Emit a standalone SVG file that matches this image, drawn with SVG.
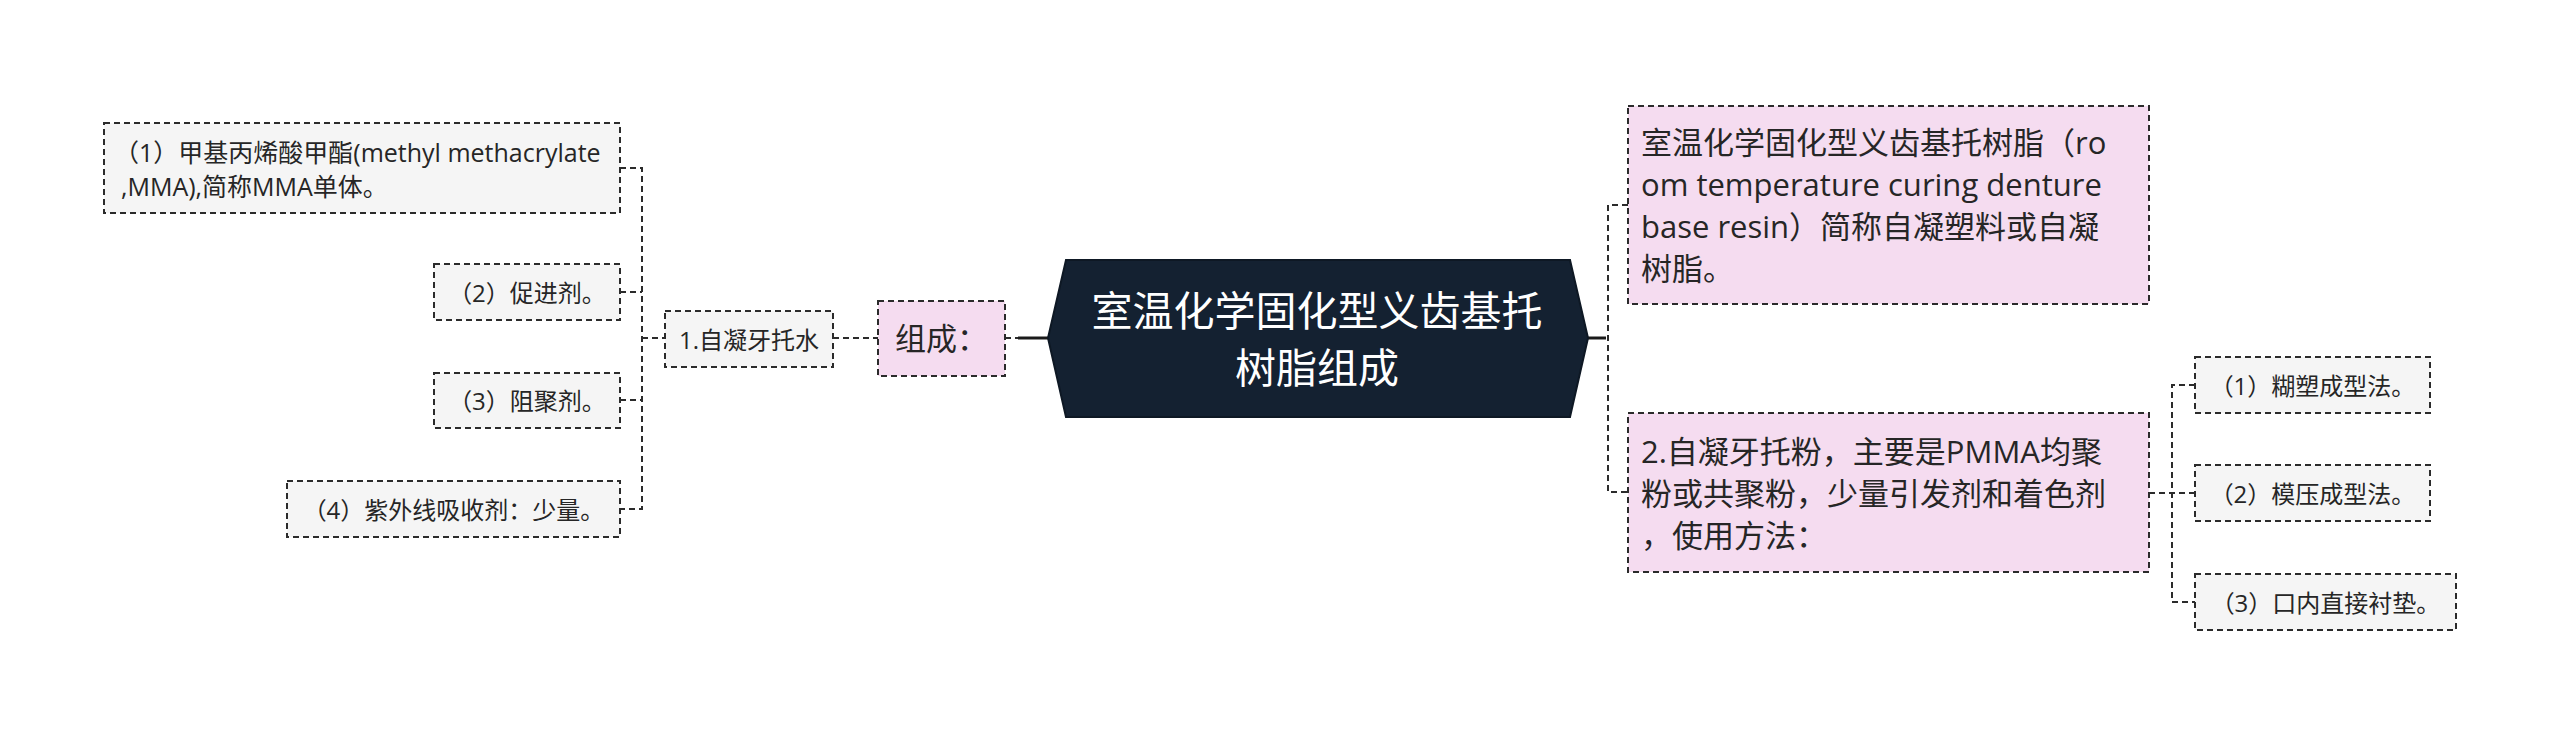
<svg xmlns="http://www.w3.org/2000/svg" width="2560" height="735" viewBox="0 0 2560 735">
<style>
text{font-family:"Open Sans","Noto Sans CJK SC","Noto Sans",sans-serif;fill:#262626;dominant-baseline:central}
.c{text-anchor:middle}
.pink{fill:#f5dcf0;stroke:#2b2b2b;stroke-width:2;stroke-dasharray:6 4}
.gray{fill:#f5f5f5;stroke:#2b2b2b;stroke-width:2;stroke-dasharray:6 4}
.f31{font-size:31px}
.f24{font-size:24px}
.conn path{fill:none;stroke:#2b2b2b;stroke-width:2;stroke-dasharray:6 4}
.conn .solid{stroke-width:3;stroke-dasharray:none;stroke:#1a1a1a}
</style>
<rect width="2560" height="735" fill="#ffffff"/>

<g id="connectors" class="conn">
  <path class="solid" d="M1018 338H1050"/>
  <path d="M1005 338H1018"/>
  <path d="M833 338H878"/>
  <path d="M642 338H665"/>
  <path d="M620 168H642V509H620M620 292H642M620 400H642"/>
  <path class="solid" d="M1586 338H1606"/>
  <path d="M1628 205H1608V492H1628"/>
  <path d="M2149 493H2195M2195 385H2172V602H2195"/>
</g>

<g id="root">
  <path d="M1066 260H1570L1588 338L1570 417H1066L1048 338Z" fill="#142131" stroke="#0e1824" stroke-width="2"/>
  <text class="c" x="1317" y="310" style="font-size:41px;fill:#ffffff">室温化学固化型义齿基托</text>
  <text class="c" x="1317" y="367" style="font-size:41px;fill:#ffffff">树脂组成</text>
</g>

<g id="n-zucheng">
  <rect class="pink" x="878" y="301" width="127" height="75"/>
  <text class="c f31" x="941.5" y="338">组成：</text>
</g>

<g id="n-water">
  <rect class="gray" x="665" y="311" width="168" height="56"/>
  <text class="c f24" x="749" y="339">1.自凝牙托水</text>
</g>

<g id="n-mma">
  <rect class="gray" x="104" y="123" width="516" height="90"/>
  <text x="114" y="152" style="font-size:25px">（1）甲基丙烯酸甲酯(methyl methacrylate</text>
  <text x="121" y="186" style="font-size:25px">,MMA),简称MMA单体。</text>
</g>

<g id="n-accel">
  <rect class="gray" x="434" y="264" width="186" height="56"/>
  <text class="c f24" x="527" y="292">（2）促进剂。</text>
</g>

<g id="n-inhib">
  <rect class="gray" x="434" y="373" width="186" height="55"/>
  <text class="c f24" x="527" y="400.5">（3）阻聚剂。</text>
</g>

<g id="n-uv">
  <rect class="gray" x="287" y="481" width="333" height="56"/>
  <text class="c f24" x="453.5" y="509">（4）紫外线吸收剂：少量。</text>
</g>

<g id="n-def">
  <rect class="pink" x="1628" y="106" width="521" height="198"/>
  <text class="f31" x="1641" y="142">室温化学固化型义齿基托树脂（ro</text>
  <text class="f31" x="1641" y="184">om temperature curing denture</text>
  <text class="f31" x="1641" y="226">base resin）简称自凝塑料或自凝</text>
  <text class="f31" x="1641" y="268">树脂。</text>
</g>

<g id="n-powder">
  <rect class="pink" x="1628" y="413" width="521" height="159"/>
  <text class="f31" x="1641" y="450.5">2.自凝牙托粉，主要是PMMA均聚</text>
  <text class="f31" x="1641" y="492.5">粉或共聚粉，少量引发剂和着色剂</text>
  <text class="f31" x="1641" y="534.5">，使用方法：</text>
</g>

<g id="n-m1">
  <rect class="gray" x="2195" y="357" width="235" height="56"/>
  <text class="c f24" x="2312.5" y="385">（1）糊塑成型法。</text>
</g>

<g id="n-m2">
  <rect class="gray" x="2195" y="465" width="235" height="56"/>
  <text class="c f24" x="2312.5" y="493">（2）模压成型法。</text>
</g>

<g id="n-m3">
  <rect class="gray" x="2195" y="574" width="261" height="56"/>
  <text class="c f24" x="2325.5" y="602">（3）口内直接衬垫。</text>
</g>
</svg>
